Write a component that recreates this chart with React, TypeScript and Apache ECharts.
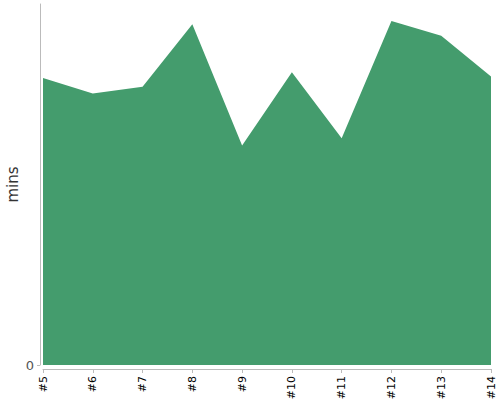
import React, { useEffect, useRef } from "react";
import * as echarts from "echarts";

const categories = ["#5", "#6", "#7", "#8", "#9", "#10", "#11", "#12", "#13", "#14"];
const minsValues = [79.5, 75.2, 77.1, 94.4, 60.8, 81.1, 62.8, 95.3, 91.2, 79.9];
const yTickValues = [0];

export default function App() {
  const ref = useRef<HTMLDivElement>(null);
  useEffect(() => {
    if (!ref.current) return;
    const chart = echarts.init(ref.current, null, { renderer: "svg" });
    chart.setOption({
      animation: false,
      grid: {
        left: 43,
        right: 9,
        top: 4,
        bottom: 35,
        containLabel: false,
        outerBoundsMode: "none",
      },
      xAxis: {
        type: "category",
        data: categories,
        boundaryGap: false,
        offset: 4,
        axisLine: { show: true, onZero: false, lineStyle: { color: "#bbb", width: 1 } },
        axisTick: { show: true, alignWithLabel: true, length: 4, lineStyle: { color: "#bbb" } },
        axisLabel: {
          rotate: 90,
          fontSize: 11,
          color: "#000",
          margin: 7,
          interval: 0,
          fontFamily: "DejaVu Sans",
        },
      },
      yAxis: {
        type: "value",
        min: 0,
        max: 100,
        offset: 3,
        name: "mins",
        nameLocation: "middle",
        nameGap: 20,
        nameMoveOverlap: false,
        nameTextStyle: { fontSize: 15, color: "#333", fontFamily: "DejaVu Sans" },
        splitLine: { show: false },
        axisLine: { show: true, onZero: false, lineStyle: { color: "#bbb", width: 1 } },
        axisTick: { show: true, length: 3, customValues: yTickValues, lineStyle: { color: "#bbb" } },
        axisLabel: {
          customValues: yTickValues,
          fontSize: 13,
          color: "#555",
          margin: 6,
          fontFamily: "DejaVu Sans",
        },
      },
      series: [
        {
          type: "line",
          data: minsValues,
          symbol: "none",
          lineStyle: { width: 0 },
          areaStyle: { color: "#449c6d", opacity: 1 },
        },
      ],
    });
    return () => chart.dispose();
  }, []);
  return (
    <div
      ref={ref}
      style={{ position: "absolute", left: 0, top: 0, width: 500, height: 400 }}
    />
  );
}
